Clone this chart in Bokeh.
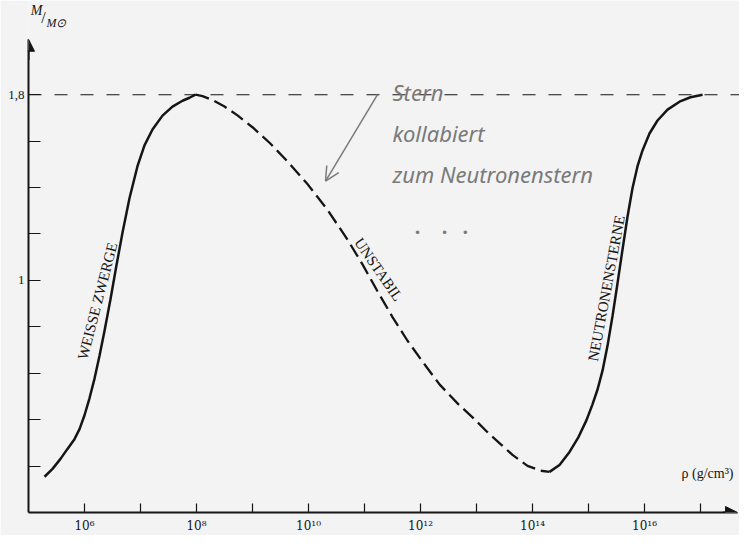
import numpy as np
from bokeh.plotting import figure
from bokeh.models import Span, Label, Arrow, NormalHead, OpenHead, FixedTicker
from bokeh.embed import file_html
from bokeh.resources import INLINE

# ---------------- data (log10 of density in g/cm^3, mass in solar masses) -------------
wd_log_rho = [5.286, 5.429, 5.571, 5.696, 5.821, 5.911, 6.0, 6.089, 6.179, 6.268, 6.357,
              6.464, 6.571, 6.679, 6.804, 6.946, 7.071, 7.214, 7.393, 7.571, 7.75, 7.875, 7.982]
wd_mass    = [0.154, 0.188, 0.231, 0.274, 0.316, 0.359, 0.419, 0.492, 0.577, 0.675, 0.782,
              0.919, 1.065, 1.206, 1.355, 1.492, 1.582, 1.650, 1.710, 1.749, 1.774, 1.787, 1.800]

unst_log_rho = [7.982, 8.107, 8.286, 8.5, 8.732, 9.0, 9.304, 9.625, 9.982, 10.339, 10.696, 10.964,
                11.232, 11.5, 11.768, 12.036, 12.339, 12.661, 12.929, 13.196, 13.429, 13.643,
                13.911, 14.143, 14.304]
unst_mass    = [1.800, 1.794, 1.777, 1.749, 1.711, 1.660, 1.593, 1.513, 1.415, 1.304, 1.176, 1.069,
                0.953, 0.842, 0.740, 0.650, 0.552, 0.470, 0.410, 0.346, 0.295, 0.248,
                0.201, 0.180, 0.175]

ns_log_rho = [14.304, 14.482, 14.661, 14.821, 14.964, 15.071, 15.161, 15.25, 15.339, 15.429, 15.518,
              15.607, 15.696, 15.786, 15.875, 15.964, 16.089, 16.232, 16.411, 16.625, 16.821, 17.036]
ns_mass    = [0.175, 0.205, 0.261, 0.325, 0.398, 0.466, 0.530, 0.611, 0.718, 0.847, 0.988,
              1.133, 1.274, 1.398, 1.492, 1.560, 1.633, 1.689, 1.736, 1.770, 1.789, 1.800]

m_max = 1.8
x_tick_exponents = list(range(6, 18))
x_label_exponents = [6, 8, 10, 12, 14, 16]
y_ticks = [0.2, 0.4, 0.6, 0.8, 1.0, 1.2, 1.4, 1.6, 1.8]
y_tick_labels = {1.8: "1,8", 1.0: "1"}

SUP = str.maketrans("0123456789", "⁰¹²³⁴⁵⁶⁷⁸⁹")
R = lambda e: 10.0 ** e

SERIF = "Liberation Serif"
INK = "#151515"
HAND = "#7a7a7a"
BG = "#f3f3f3"

p = figure(width=739, height=535, x_axis_type="log",
           x_range=(R(5.0), R(17.696)), y_range=(0, 2.206),
           output_backend="svg", toolbar_location=None,
           min_border_left=28, min_border_right=0, min_border_top=0, min_border_bottom=19,
           background_fill_color=BG, border_fill_color=BG)
p.outline_line_color = None
p.grid.visible = False

# x axis
xa = p.xaxis[0]
xa.ticker = FixedTicker(ticks=[R(k) for k in x_tick_exponents], minor_ticks=[])
xa.major_label_overrides = {R(k): ("10" + str(k).translate(SUP) if k in x_label_exponents else "")
                            for k in x_tick_exponents}
xa.major_tick_in = 9
xa.major_tick_out = 0
xa.major_tick_line_width = 1.2
xa.major_tick_line_color = INK
xa.axis_line_width = 2
xa.axis_line_color = INK
xa.bounds = (R(5.0), R(17.45))
xa.major_label_text_font = "DejaVu Serif"
xa.major_label_text_font_size = "12px"
xa.major_label_text_color = INK
xa.major_label_standoff = 6

# y axis
ya = p.yaxis[0]
ya.ticker = FixedTicker(ticks=y_ticks, minor_ticks=[])
ov = {t: "" for t in y_ticks}
ov.update(y_tick_labels)
ya.major_label_overrides = ov
ya.major_tick_in = 12
ya.major_tick_out = 0
ya.major_tick_line_width = 1.2
ya.major_tick_line_color = INK
ya.axis_line_width = 2
ya.axis_line_color = INK
ya.bounds = (0, 1.99)
ya.major_label_text_font = SERIF
ya.major_label_text_font_size = "13px"
ya.major_label_text_color = INK
ya.major_label_standoff = 4

# axis arrows
p.add_layout(Arrow(end=NormalHead(size=12, fill_color=INK, line_color=INK),
                   x_start=R(5.0), y_start=1.95, x_end=R(5.0), y_end=2.039,
                   line_color=INK, line_width=2))
p.add_layout(Arrow(end=NormalHead(size=12, fill_color=INK, line_color=INK),
                   x_start=R(17.4), y_start=0, x_end=R(17.661), y_end=0,
                   line_color=INK, line_width=2))

# limiting-mass line
p.add_layout(Span(location=m_max, dimension="width", line_color=INK,
                  line_width=1.1, line_dash="13 13"))

# curves
p.line([R(v) for v in wd_log_rho], wd_mass, line_color=INK, line_width=2.5)
p.line([R(v) for v in unst_log_rho], unst_mass, line_color=INK, line_width=2.3, line_dash="14 6")
p.line([R(v) for v in ns_log_rho], ns_mass, line_color=INK, line_width=2.5)

def lab(text, lx, m, size="15px", angle=0, font=SERIF, style="normal", color=INK, align="center"):
    p.add_layout(Label(x=R(lx), y=m, text=text, text_font=font, text_font_size=size,
                       text_font_style=style, text_color=color, text_align=align,
                       text_baseline="middle", angle=angle, angle_units="deg"))

# curve labels
lab("WEISSE ZWERGE", 6.232, 0.911, angle=75.4)
lab("UNSTABIL", 11.25, 1.047, angle=-55.3)
lab("NEUTRONENSTERNE", 15.321, 0.966, angle=79.4)

# axis titles
lab("M", 5.143, 2.163, size="14px", style="italic")
lab("/", 5.268, 2.133, size="16px")
lab("M⊙", 5.50, 2.108, size="12px", style="italic")
lab("ρ (g/cm³)", 17.125, 0.167, size="14px")

# handwritten note
lab("Stern", 11.5, 1.813, size="22px", font="Noto Sans", style="italic", color=HAND, align="left")
lab("kollabiert", 11.5, 1.633, size="22px", font="Noto Sans", style="italic", color=HAND, align="left")
lab("zum Neutronenstern", 11.5, 1.458, size="22px", font="Noto Sans", style="italic", color=HAND, align="left")
for dx in (11.946, 12.43, 12.80):
    lab("•", dx, 1.206, size="12px", font="DejaVu Sans", color=HAND)
p.add_layout(Arrow(end=OpenHead(size=14, line_color=HAND, line_width=1.5),
                   x_start=R(11.232), y_start=1.80, x_end=R(10.304), y_end=1.428,
                   line_color=HAND, line_width=1.5))

open("out.html", "w").write(file_html(p, INLINE))
